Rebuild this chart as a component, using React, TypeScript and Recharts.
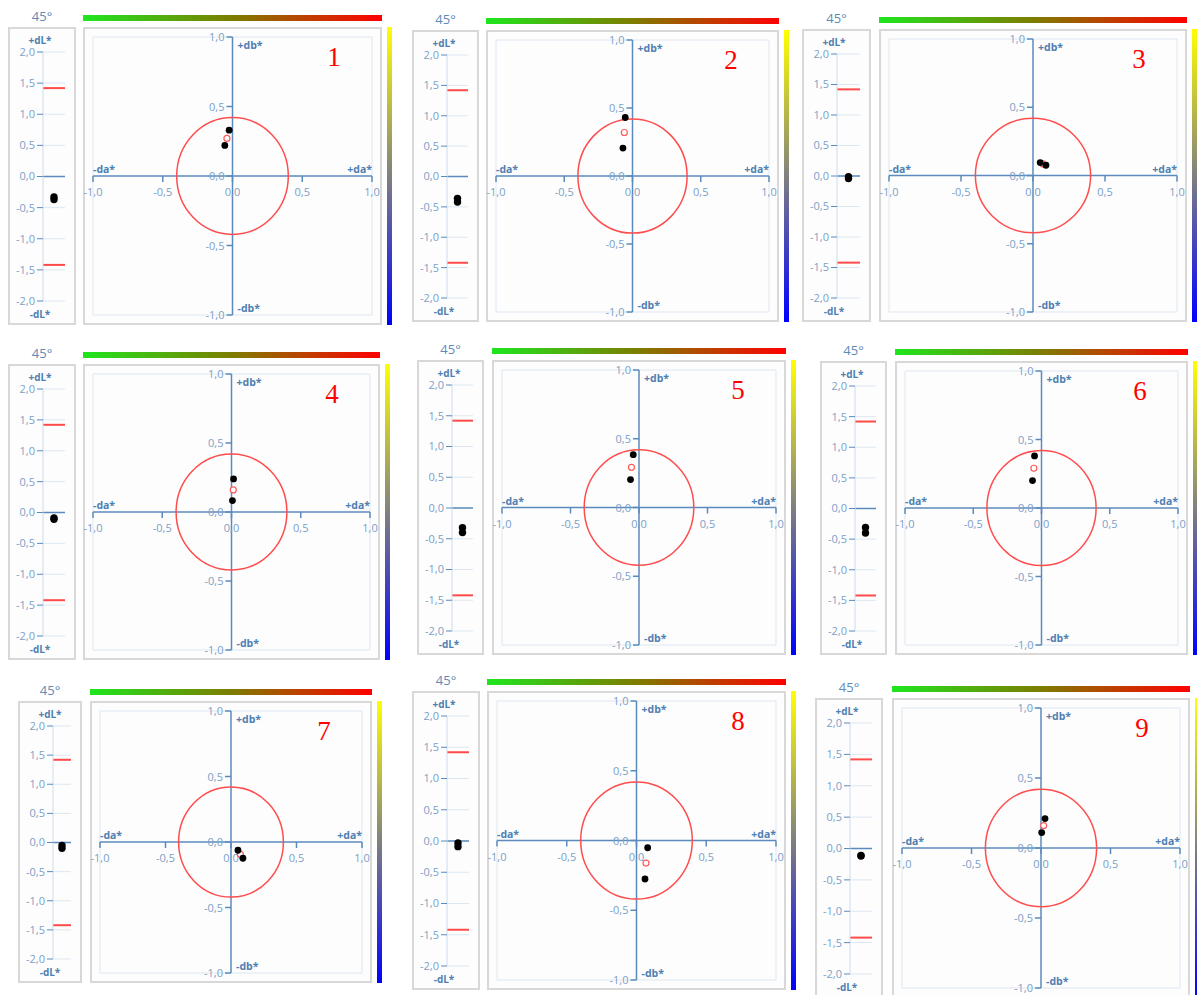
import React from "react"
import { ScatterChart, Scatter, XAxis, YAxis, CartesianGrid, ReferenceLine, ReferenceDot } from "recharts"

// panel labels and measurement angle
const PANEL_NAMES = ["1", "2", "3", "4", "5", "6", "7", "8", "9"]
const ANGLE = "45°"

// two measurements per panel (da*, db*, dL*)
const SAMPLE_DA = [
  [-0.024, -0.055], [-0.053, -0.07], [0.05, 0.09],
  [0.015, 0.007], [-0.042, -0.062], [-0.051, -0.066],
  [0.053, 0.091], [0.08, 0.061], [0.029, 0.005],
]
const SAMPLE_DB = [
  [0.33, 0.22], [0.43, 0.205], [0.095, 0.075],
  [0.24, 0.083], [0.384, 0.203], [0.38, 0.2],
  [-0.063, -0.124], [-0.052, -0.276], [0.21, 0.11],
]
const SAMPLE_DL = [
  [-0.33, -0.37], [-0.36, -0.42], [-0.01, -0.04],
  [-0.09, -0.11], [-0.32, -0.4], [-0.31, -0.4],
  [-0.05, -0.1], [-0.03, -0.09], [-0.11, -0.12],
]
// mean point (open red marker)
const MEAN_DA = [-0.04, -0.06, 0.07, 0.013, -0.055, -0.056, 0.072, 0.068, 0.019]
const MEAN_DB = [0.27, 0.32, 0.085, 0.16, 0.292, 0.29, -0.094, -0.162, 0.16]

// tolerances
const DL_LIMITS = [1.42, -1.42]
const TOL_CENTER = [0, 0]
const TOL_RADII = [0.4, 0.42]

// ticks
const AB_TICKS = [-1, -0.5, 0, 0.5, 1]
const DL_TICKS = [-2, -1.5, -1, -0.5, 0, 0.5, 1, 1.5, 2]

// where each screenshot panel sits on the page
const LAYOUT = [
  { x: 8, y: 27, sw: 68, mx: 83, mw: 299, h: 298 },
  { x: 412, y: 30, sw: 67, mx: 486, mw: 293, h: 292 },
  { x: 802, y: 29, sw: 69, mx: 879, mw: 308, h: 293 },
  { x: 8, y: 364, sw: 68, mx: 83, mw: 297, h: 296 },
  { x: 417, y: 360, sw: 67, mx: 492, mw: 294, h: 295 },
  { x: 820, y: 361, sw: 67, mx: 895, mw: 293, h: 294 },
  { x: 18, y: 701, sw: 64, mx: 90, mw: 282, h: 282 },
  { x: 412, y: 691, sw: 68, mx: 487, mw: 299, h: 299 },
  { x: 815, y: 698, sw: 68, mx: 892, mw: 298, h: 300 },
]

const FONT = "'Open Sans', 'DejaVu Sans', sans-serif"
const AXIS = "#5b8bbd"
const GRID = "#dde7f1"
const TICK_TEXT = "#7ba0c7"
const TITLE = "#4f7fb1"
const BORDER = "#d8d8d8"

const fmt = (v: number) => v.toFixed(1).replace(".", ",")

const xTick = (v: number) => (p: any) => (
  <g>
    <line x1={p.cx} y1={p.cy} x2={p.cx} y2={p.cy + 6} stroke={AXIS} strokeWidth={1.5} />
    <text x={p.cx} y={p.cy + 20} textAnchor="middle" fontSize={11} fontFamily={FONT} fill={TICK_TEXT}>
      {fmt(v)}
    </text>
  </g>
)

const yTick = (v: number) => (p: any) => (
  <g>
    <line x1={p.cx - 6} y1={p.cy} x2={p.cx} y2={p.cy} stroke={AXIS} strokeWidth={1.5} />
    <text x={p.cx - 8} y={p.cy + 4} textAnchor="end" fontSize={11} fontFamily={FONT} fill={TICK_TEXT}>
      {fmt(v)}
    </text>
  </g>
)

const axisTitle = (txt: string, dx: number, dy: number, anchor: string) => (p: any) => (
  <text x={p.cx + dx} y={p.cy + dy} textAnchor={anchor} fontSize={10.5} fontWeight="bold" fontFamily={FONT} fill={TITLE}>
    {txt}
  </text>
)

const dot = (r: number) => (p: any) => <circle cx={p.cx} cy={p.cy} r={r} fill="#000" />
const openDot = (p: any) => <circle cx={p.cx} cy={p.cy} r={3} fill="#fff" stroke="#ff5a5a" strokeWidth={1.2} />

function Frame({ left, top, width, height }: any) {
  return (
    <div
      style={{
        position: "absolute", left, top, width, height, boxSizing: "border-box",
        border: `2px solid ${BORDER}`, background: "#fdfdfe",
      }}
    />
  )
}

function Panel({ idx }: { idx: number }) {
  const L = LAYOUT[idx]
  const pxX = (L.mw - 20) / 2
  const pxY = (L.h - 20) / 2
  const points = SAMPLE_DA[idx].map((da, i) => ({ da, db: SAMPLE_DB[idx][i] }))
  const mean = [{ da: MEAN_DA[idx], db: MEAN_DB[idx] }]
  const tol = [{ da: TOL_CENTER[0], db: TOL_CENTER[1] }]
  const dl = SAMPLE_DL[idx].map((v) => ({ s: "dL*", dL: v }))

  const ellipse = (p: any) => (
    <ellipse cx={p.cx} cy={p.cy} rx={TOL_RADII[0] * pxX} ry={TOL_RADII[1] * pxY} fill="none" stroke="#ff4d4d" strokeWidth={1.5} />
  )

  return (
    <>
      <div style={{ position: "absolute", left: L.x, top: L.y - 11, width: L.sw, textAlign: "center", transform: "translateY(-50%)", fontFamily: FONT, fontSize: 13, color: "#5f8ab6" }}>
        {ANGLE}
      </div>
      <div style={{ position: "absolute", left: L.mx, top: L.y - 12, width: L.mw, height: 6, background: "linear-gradient(to right, #1ee61e, #7d7d00 50%, #ff0000)" }} />
      <div style={{ position: "absolute", left: L.mx + L.mw + 5, top: L.y, width: 5, height: L.h, background: "linear-gradient(to bottom, #ffff00, #808080 50%, #0000ff)" }} />

      {/* lightness strip */}
      <Frame left={L.x} top={L.y} width={L.sw} height={L.h} />
      <div style={{ position: "absolute", left: L.x, top: L.y }}>
        <ScatterChart width={L.sw} height={L.h} margin={{ top: 25, right: 11, bottom: 24, left: 0 }}>
          <CartesianGrid vertical={false} stroke={GRID} />
          <XAxis type="category" dataKey="s" allowDuplicatedCategory={false} hide />
          <YAxis
            type="number" dataKey="dL" domain={[-2, 2]} ticks={DL_TICKS} interval={0} width={35}
            axisLine={{ stroke: "#cfdceb" }} tickLine={{ stroke: AXIS }} tickSize={6}
            tick={{ fill: TICK_TEXT, fontSize: 11, fontFamily: FONT }} tickFormatter={fmt}
          />
          <ReferenceLine y={0} stroke={AXIS} strokeWidth={1.5} />
          {DL_LIMITS.map((v) => (
            <ReferenceLine key={v} y={v} stroke="#ff4a4a" strokeWidth={2} />
          ))}
          <Scatter data={dl} shape={dot(3.7)} isAnimationActive={false} />
        </ScatterChart>
      </div>
      <div style={{ position: "absolute", left: L.x + 32, top: L.y + 13, transform: "translate(-50%,-50%)", fontFamily: FONT, fontSize: 10, lineHeight: "11px", fontWeight: "bold", color: TITLE }}>
        +dL*
      </div>
      <div style={{ position: "absolute", left: L.x + 32, top: L.y + L.h - 11, transform: "translate(-50%,-50%)", fontFamily: FONT, fontSize: 10, lineHeight: "11px", fontWeight: "bold", color: TITLE }}>
        -dL*
      </div>

      {/* chromaticity plane */}
      <Frame left={L.mx} top={L.y} width={L.mw} height={L.h} />
      <div style={{ position: "absolute", left: L.mx, top: L.y }}>
        <ScatterChart width={L.mw} height={L.h} margin={{ top: 10, right: 10, bottom: 10, left: 10 }}>
          <CartesianGrid stroke={GRID} />
          <XAxis type="number" dataKey="da" domain={[-1, 1]} ticks={AB_TICKS} height={0} tick={false} axisLine={false} tickLine={false} />
          <YAxis type="number" dataKey="db" domain={[-1, 1]} ticks={AB_TICKS} width={0} tick={false} axisLine={false} tickLine={false} />
          <ReferenceLine x={0} stroke={AXIS} strokeWidth={1.5} />
          <ReferenceLine y={0} stroke={AXIS} strokeWidth={1.5} />
          {AB_TICKS.map((v) => (
            <ReferenceDot key={`x${v}`} x={v} y={0} shape={xTick(v)} />
          ))}
          {AB_TICKS.map((v) => (
            <ReferenceDot key={`y${v}`} x={0} y={v} shape={yTick(v)} />
          ))}
          <ReferenceDot x={-1} y={0} shape={axisTitle("-da*", 0, -3, "start")} />
          <ReferenceDot x={1} y={0} shape={axisTitle("+da*", 0, -3, "end")} />
          <ReferenceDot x={0} y={1} shape={axisTitle("+db*", 5, 12, "start")} />
          <ReferenceDot x={0} y={-1} shape={axisTitle("-db*", 5, -3, "start")} />
          <Scatter data={tol} shape={ellipse} isAnimationActive={false} />
          <Scatter data={mean} shape={openDot} isAnimationActive={false} />
          <Scatter data={points} shape={dot(3.4)} isAnimationActive={false} />
        </ScatterChart>
      </div>
      <div style={{ position: "absolute", left: L.mx + L.mw - 48, top: L.y + 30, transform: "translate(-50%,-50%)", fontFamily: "'Liberation Serif', 'DejaVu Serif', serif", fontSize: 27, color: "#ff0000" }}>
        {PANEL_NAMES[idx]}
      </div>
    </>
  )
}

export default function App() {
  return (
    <div style={{ position: "absolute", left: 0, top: 0, width: 1197, height: 995, overflow: "hidden", background: "#fff" }}>
      {PANEL_NAMES.map((_, i) => (
        <Panel key={i} idx={i} />
      ))}
    </div>
  )
}
